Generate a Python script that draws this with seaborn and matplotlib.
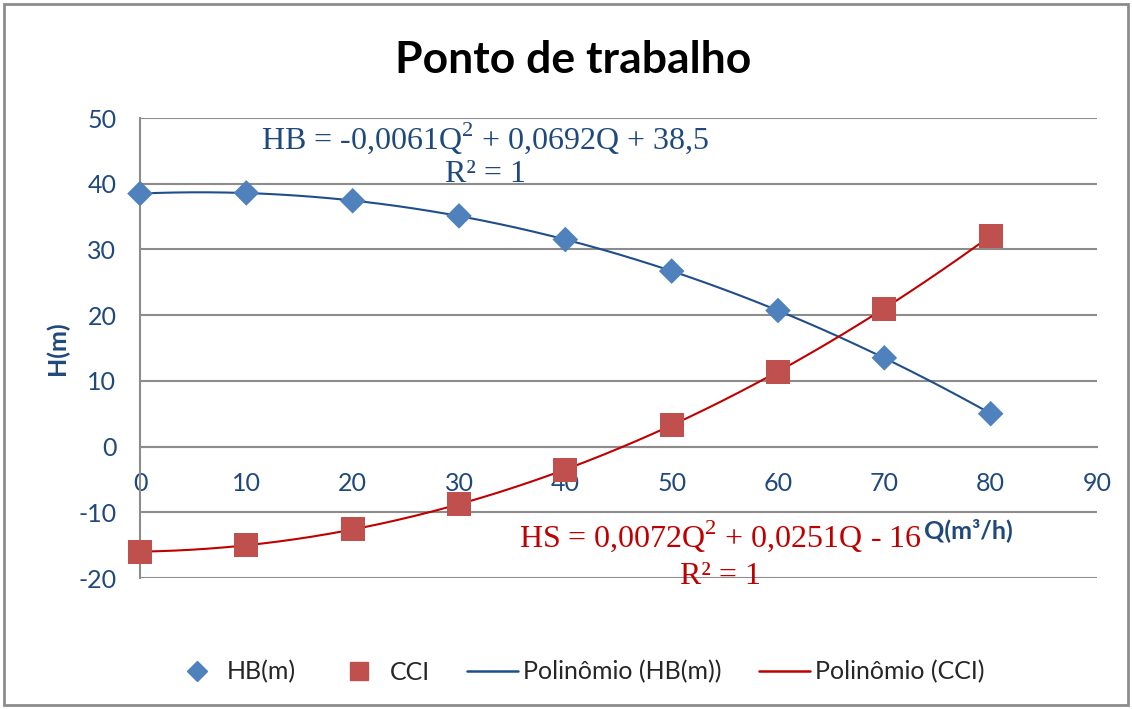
import numpy as np
import pandas as pd
import matplotlib
matplotlib.use("Agg")
import matplotlib.pyplot as plt
from matplotlib.lines import Line2D
from matplotlib.ticker import MultipleLocator
import seaborn as sns

# ---- data ----
Q = [0, 10, 20, 30, 40, 50, 60, 70, 80]
HB = [38.5, 38.6, 37.4, 35.1, 31.5, 26.7, 20.7, 13.5, 5.0]
CCI = [-16.0, -15.0, -12.6, -8.8, -3.5, 3.3, 11.4, 21.0, 32.1]
title = "Ponto de trabalho"
eq_hb = ["HB = -0,0061Q$^2$ + 0,0692Q + 38,5", "R² = 1"]
eq_hs = ["HS = 0,0072Q$^2$ + 0,0251Q - 16", "R² = 1"]
legend_labels = ["HB(m)", "CCI", "Polinômio (HB(m))", "Polinômio (CCI)"]

df = pd.DataFrame({"Q": Q, "HB": HB, "CCI": CCI})

sns.set_theme(style="white")
plt.rcParams["font.family"] = ["Lato", "DejaVu Sans"]
plt.rcParams["mathtext.fontset"] = "custom"
plt.rcParams["mathtext.rm"] = "Liberation Serif"
plt.rcParams["axes.unicode_minus"] = False

BLUE_TXT = "#1F497D"
BLUE_MK = "#4F81BD"
RED_MK = "#C0504D"
BLUE_LN = "#1F4E8C"
RED_LN = "#C00000"
GRAY = "#8C8C8C"

fig = plt.figure(figsize=(11.32, 7.09), dpi=100)
ax = fig.add_axes([140 / 1132, 1 - 578 / 709, (1097 - 140) / 1132, (578 - 118) / 709])

# trendlines (polynomial order 2 fitted to the data)
qq = np.linspace(0, 80, 200)
c_hb = np.polyfit(df["Q"], df["HB"], 2)
c_cc = np.polyfit(df["Q"], df["CCI"], 2)
fit = pd.DataFrame({"Q": qq, "HBfit": np.polyval(c_hb, qq), "CCfit": np.polyval(c_cc, qq)})
sns.lineplot(data=fit, x="Q", y="HBfit", ax=ax, color=BLUE_LN, lw=1.5, zorder=3)
sns.lineplot(data=fit, x="Q", y="CCfit", ax=ax, color=RED_LN, lw=1.5, zorder=3)

sns.scatterplot(data=df, x="Q", y="HB", ax=ax, marker="D", s=170, color=BLUE_MK,
                edgecolor="none", zorder=4, clip_on=False)
sns.scatterplot(data=df, x="Q", y="CCI", ax=ax, marker="s", s=300, color=RED_MK,
                edgecolor="none", zorder=4, clip_on=False)

ax.set_xlim(0, 90)
ax.set_ylim(-20, 50)
ax.xaxis.set_major_locator(MultipleLocator(10))
ax.xaxis.set_minor_locator(MultipleLocator(2))
ax.yaxis.set_major_locator(MultipleLocator(10))
ax.yaxis.set_minor_locator(MultipleLocator(2))

for s in ["top", "right"]:
    ax.spines[s].set_visible(False)
ax.spines["left"].set_color(GRAY)
ax.spines["left"].set_linewidth(1.5)
ax.spines["bottom"].set_color(GRAY)
ax.spines["bottom"].set_linewidth(1.5)
ax.spines["bottom"].set_position(("data", 0))

ax.grid(axis="y", which="major", color=GRAY, lw=1.5)
ax.set_axisbelow(True)

ax.tick_params(axis="y", which="both", direction="in", color=GRAY, width=1.2,
               labelsize=18, labelcolor=BLUE_TXT, pad=17)
ax.tick_params(axis="y", which="major", length=0)
ax.tick_params(axis="y", which="minor", length=5)
ax.tick_params(axis="x", which="major", direction="inout", length=9, color=GRAY, width=1.2,
               labelsize=18, labelcolor=BLUE_TXT, pad=14)
ax.tick_params(axis="x", which="minor", direction="in", length=5, color=GRAY, width=1.2)

ax.set_xlabel("")
ax.set_ylabel("")
fig.text(57 / 1132, 1 - 348 / 709, "H(m)", rotation=90, ha="center", va="center",
         fontsize=18, fontweight="bold", color=BLUE_TXT)
fig.text(968 / 1132, 1 - 530 / 709, "Q(m³/h)", ha="center", va="center",
         fontsize=18, fontweight="bold", color=BLUE_TXT)

fig.text(573 / 1132, 1 - 60 / 709, title, ha="center", va="center",
         fontsize=32, fontweight="bold", color="black")

serif = ["Liberation Serif", "DejaVu Serif"]
fig.text(485 / 1132, 1 - 138 / 709, eq_hb[0], ha="center", va="center",
         fontsize=23, color=BLUE_TXT, family=serif)
fig.text(485 / 1132, 1 - 174 / 709, eq_hb[1], ha="center", va="center",
         fontsize=23, color=BLUE_TXT, family=serif)
fig.text(720 / 1132, 1 - 536 / 709, eq_hs[0], ha="center", va="center",
         fontsize=23, color=RED_LN, family=serif)
fig.text(720 / 1132, 1 - 576 / 709, eq_hs[1], ha="center", va="center",
         fontsize=23, color=RED_LN, family=serif)

handles = [
    Line2D([], [], marker="D", ls="none", color=BLUE_MK, markersize=10),
    Line2D([], [], marker="s", ls="none", color=RED_MK, markersize=13),
    Line2D([], [], color=BLUE_LN, lw=1.8),
    Line2D([], [], color=RED_LN, lw=1.8),
]
fig.legend(handles, legend_labels, loc="center", bbox_to_anchor=(578 / 1132, 1 - 672 / 709),
           ncol=4, frameon=False, fontsize=18, handlelength=2.04, columnspacing=1.5,
           handletextpad=0.2, borderaxespad=0, borderpad=0)

# outer chart border
fig.patches.append(plt.Rectangle((4 / 1132, 4 / 709), 1 - 8 / 1132, 1 - 8 / 709,
                                 transform=fig.transFigure, fill=False,
                                 edgecolor=GRAY, lw=2))

fig.savefig("out.png", dpi=100)
